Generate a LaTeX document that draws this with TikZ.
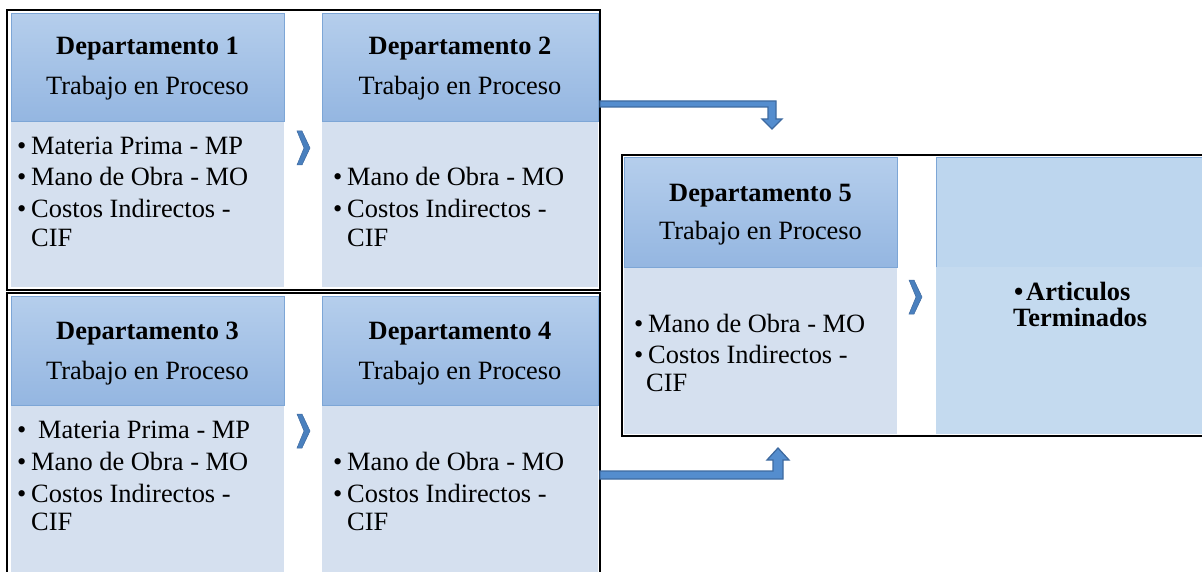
\documentclass[tikz,border=0pt]{standalone}
\usepackage{fontspec}
\setmainfont{Liberation Serif}
\definecolor{htop}{RGB}{181,206,236}
\definecolor{hbot}{RGB}{148,182,225}
\definecolor{hedge}{RGB}{125,166,214}
\definecolor{bodyc}{RGB}{213,224,239}
\definecolor{rhead}{RGB}{189,214,238}
\definecolor{rbody}{RGB}{196,218,239}
\definecolor{arrfill}{RGB}{84,141,206}
\definecolor{arredge}{RGB}{62,106,160}
\definecolor{chev}{RGB}{74,128,190}
\newcommand\bul[1][14pt]{\makebox[#1][l]{\textbullet}}
\tikzset{
  hdr/.style={anchor=north west, inner sep=0, top color=htop, bottom color=hbot, draw=hedge, line width=0.8pt},
  bodybox/.style={anchor=north west, inner sep=0, fill=bodyc},
  outerbox/.style={draw=black, line width=2pt},
  txt/.style={anchor=base, inner sep=0, font=\fontsize{26.4}{30}\selectfont},
  btxt/.style={anchor=base, inner sep=0, font=\fontsize{26.4}{30}\selectfont\bfseries},
  itemtxt/.style={anchor=base west, inner sep=0, font=\fontsize{26.4}{30}\selectfont},
  chevron/.style={fill=chev, draw=arredge, line width=0.5pt, line join=miter},
  blockarrow/.style={fill=arrfill, draw=arredge, line width=1.3pt, line join=miter},
}
\newcommand\chevronat[2]{\filldraw[chevron] (#1,#2) -- ++(5,0) -- ++(8,17) -- ++(-8,17) -- ++(-5,0) -- ++(7,-17) -- cycle;}
\begin{document}
\begin{tikzpicture}[x=1pt,y=-1pt]
\useasboundingbox (0,0) rectangle (1202,572);
\clip (0,0) rectangle (1202,572);
% ---------------- Box 1 (Dept 1 & 2)
\node[bodybox, minimum width=273pt, minimum height=166pt] (b1) at (11,121) {};
\node[hdr, minimum width=273pt, minimum height=108pt] (h1) at (11,13) {};
\node[bodybox, minimum width=276pt, minimum height=166pt] (b2) at (322,121) {};
\node[hdr, minimum width=276pt, minimum height=108pt] (h2) at (322,13) {};
\draw[outerbox] (7,10) rectangle (600,290);
\node[btxt] (t1a) at (147.5,55) {Departamento 1};
\node[txt] (t1b) at (147.5,95) {Trabajo en Proceso};
\node[itemtxt] (i11) at (17,155) {\bul Materia Prima - MP};
\node[itemtxt] (i12) at (17,186) {\bul Mano de Obra - MO};
\node[itemtxt] (i13) at (17,218) {\bul Costos Indirectos -};
\node[itemtxt] (i14) at (31,246.5) {CIF};
\node[btxt] (t2a) at (460,55) {Departamento 2};
\node[txt] (t2b) at (460,95) {Trabajo en Proceso};
\node[itemtxt] (i21) at (333,186) {\bul Mano de Obra - MO};
\node[itemtxt] (i22) at (333,218) {\bul Costos Indirectos -};
\node[itemtxt] (i23) at (347,246.5) {CIF};
\chevronat{297}{131}
% ---------------- Box 2 (Dept 3 & 4)
\node[bodybox, minimum width=273pt, minimum height=175pt] (b3) at (11,405) {};
\node[hdr, minimum width=273pt, minimum height=109pt] (h3) at (11,296) {};
\node[bodybox, minimum width=276pt, minimum height=175pt] (b4) at (322,405) {};
\node[hdr, minimum width=276pt, minimum height=109pt] (h4) at (322,296) {};
\draw[outerbox] (7,293) rectangle (600,590);
\node[btxt] (t3a) at (147.5,339.5) {Departamento 3};
\node[txt] (t3b) at (147.5,379) {Trabajo en Proceso};
\node[itemtxt] (i31) at (17,438.5) {\bul[21pt]Materia Prima - MP};
\node[itemtxt] (i32) at (17,470) {\bul Mano de Obra - MO};
\node[itemtxt] (i33) at (17,502) {\bul Costos Indirectos -};
\node[itemtxt] (i34) at (31,530) {CIF};
\node[btxt] (t4a) at (460,339.5) {Departamento 4};
\node[txt] (t4b) at (460,379) {Trabajo en Proceso};
\node[itemtxt] (i41) at (333,470) {\bul Mano de Obra - MO};
\node[itemtxt] (i42) at (333,502) {\bul Costos Indirectos -};
\node[itemtxt] (i43) at (347,530) {CIF};
\chevronat{297}{414}
% ---------------- Box 3 (Dept 5 & Articulos)
\node[bodybox, minimum width=273pt, minimum height=167pt] (b5) at (624,267) {};
\node[hdr, minimum width=273pt, minimum height=110pt] (h5) at (624,157) {};
\node[anchor=north west, inner sep=0, fill=rbody, minimum width=280pt, minimum height=167pt] (b6) at (936,267) {};
\node[anchor=north west, inner sep=0, fill=rhead, minimum width=280pt, minimum height=110pt] (h6) at (936,157) {};
\draw[hedge, line width=0.8pt] (h6.south west) -- (h6.north west) -- (h6.north east);
\draw[outerbox] (622,155) rectangle (1215,436);
\node[btxt] (t5a) at (760.5,201.5) {Departamento 5};
\node[txt] (t5b) at (760.5,240) {Trabajo en Proceso};
\node[itemtxt] (i51) at (634,332.5) {\bul Mano de Obra - MO};
\node[itemtxt] (i52) at (634,363.5) {\bul Costos Indirectos -};
\node[itemtxt] (i53) at (646,391.5) {CIF};
\node[anchor=base west, inner sep=0, font=\fontsize{26.4}{30}\selectfont\bfseries] (art1) at (1014,300.5) {\makebox[12pt][l]{\textbullet}Articulos};
\node[anchor=base west, inner sep=0, font=\fontsize{26.4}{30}\selectfont\bfseries] (art2) at (1013,326.5) {Terminados};
\chevronat{909}{280}
% ---------------- Block arrows
\coordinate (a1s) at (600,101);
\coordinate (a2s) at (600,479);
\filldraw[blockarrow] (a1s) -- (776,101) -- (776,119) -- (782,119) -- (772,129) -- (762,119) -- (768,119) -- (768,107) -- (600,107) -- cycle;
\filldraw[blockarrow] (a2s) -- (783,479) -- (783,460) -- (789,460) -- (778,448) -- (767,460) -- (773,460) -- (773,471) -- (600,471) -- cycle;
\end{tikzpicture}
\end{document}
